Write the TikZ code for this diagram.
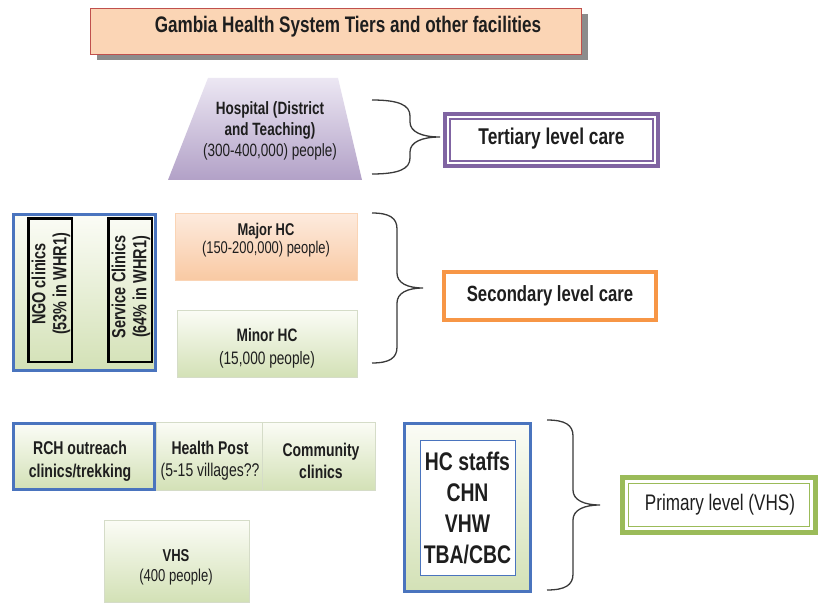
\documentclass[tikz,border=0pt]{standalone}
\usepackage{fontspec}
\setmainfont{Liberation Sans}[FakeStretch=0.76]
\usetikzlibrary{shadows}
\definecolor{titlefill}{HTML}{FBD5B5}
\definecolor{titledraw}{HTML}{C0504D}
\definecolor{lavtop}{HTML}{ECE7F3}
\definecolor{lavbot}{HTML}{B2A1C7}
\definecolor{purp}{HTML}{8064A2}
\definecolor{orng}{HTML}{F79646}
\definecolor{grnline}{HTML}{9BBB59}
\definecolor{blu}{HTML}{4A74BE}
\definecolor{grntop}{HTML}{FBFCF6}
\definecolor{grnbot}{HTML}{D3E1B6}
\definecolor{pchtop}{HTML}{FDEBDE}
\definecolor{pchbot}{HTML}{F9C9A3}
\definecolor{faint}{HTML}{D5DCC8}
\definecolor{ink}{HTML}{1E1E1E}
\definecolor{brcol}{HTML}{3A3A3A}
\newcommand\myfs[2]{\fontsize{#1}{#2}\selectfont}
\newcommand\mybrace[5]{%
  \draw[brc] (#1,#4) .. controls ({#1+0.7*(#2-#1)},#4) and (#2,{#4+5}) .. (#2,{#4+16})
    -- (#2,{(#4+#5)/2-15}) .. controls (#2,{(#4+#5)/2-5}) and ({#2+0.4*(#3-#2)},{(#4+#5)/2}) .. (#3,{(#4+#5)/2})
    .. controls ({#2+0.4*(#3-#2)},{(#4+#5)/2}) and (#2,{(#4+#5)/2+5}) .. (#2,{(#4+#5)/2+15})
    -- (#2,{#5-16}) .. controls (#2,{#5-5}) and ({#1+0.7*(#2-#1)},#5) .. (#1,#5);}
\tikzset{
  txt/.style={align=center, text=ink, inner sep=0pt},
  brc/.style={draw=brcol, line width=1.3pt},
  greenbox/.style={top color=grntop, bottom color=grnbot, draw=faint, line width=0.6pt, outer sep=0pt, inner sep=0pt},
  peachbox/.style={top color=pchtop, bottom color=pchbot, draw=pchbot!80!white, line width=0.6pt, outer sep=0pt, inner sep=0pt},
  bluebox/.style={top color=grntop, bottom color=grnbot, draw=blu, line width=3pt, outer sep=0pt, inner sep=0pt},
  blackbox/.style={draw=black, line width=2.5pt, outer sep=0pt, inner sep=0pt},
  levelbox/.style={fill=white, line width=4pt, outer sep=0pt, inner sep=0pt},
}
\begin{document}
\begin{tikzpicture}[x=1pt,y=-1pt]
\useasboundingbox (0,0) rectangle (821,604);
\fill[white] (0,0) rectangle (821,604);

% title
\node[fill=titlefill, draw=titledraw, line width=1.2pt, minimum width=491pt, minimum height=46pt,
      drop shadow={shadow xshift=6pt, shadow yshift=-6pt, fill=black, opacity=0.45}] (title) at (336,31.5) {};
\node[txt, font=\bfseries\myfs{22.5}{26}] (titletext) at (348,27) {Gambia Health System Tiers and other facilities};

% hospital trapezoid
\path[top color=lavtop, bottom color=lavbot] (208,78) -- (338,78) -- (362,180) -- (168,180) -- cycle;
\node[txt, font=\myfs{17.8}{21}] (hosp) at (270,131) {{\bfseries Hospital (District}\\{\bfseries and Teaching)}\\(300-400,000) people)};

% tertiary
\mybrace{372}{410}{440}{100}{174}
\node[levelbox, draw=purp, minimum width=213pt, minimum height=52pt] (tert) at (551.5,140) {};
\draw[purp, line width=1.2pt] ([xshift=5pt,yshift=-5pt]tert.north west) rectangle ([xshift=-5pt,yshift=5pt]tert.south east);
\node[txt, font=\bfseries\myfs{22.8}{26}] (terttext) at (551.5,139) {Tertiary level care};

% left clinics group
\node[bluebox, minimum width=142pt, minimum height=156pt] (clinics) at (84.5,292.5) {};
\node[blackbox, minimum width=43.5pt, minimum height=143.5pt] (ngo) at (50,290) {};
\node[blackbox, minimum width=43.5pt, minimum height=143.5pt] (serv) at (130,290) {};
\node[txt, rotate=90, font=\bfseries\myfs{19}{21}] (ngotext) at (51,284) {NGO clinics\\(53\% in WHR1)};
\node[txt, rotate=90, font=\bfseries\myfs{19}{21}] (servtext) at (131,287) {Service Clinics\\(64\% in WHR1)};

% health centres
\node[peachbox, minimum width=182pt, minimum height=67pt] (major) at (266,246.5) {};
\node[txt, font=\myfs{17}{18}] (majortext) at (266,240) {{\bfseries Major HC}\\(150-200,000) people)};
\node[greenbox, minimum width=180pt, minimum height=67pt] (minor) at (267,343.5) {};
\node[txt, font=\myfs{18}{23}] (minortext) at (267,348.5) {{\bfseries Minor HC}\\(15,000 people)};

% secondary
\mybrace{372}{397}{423}{213}{363}
\node[levelbox, draw=orng, minimum width=212pt, minimum height=48pt] (sec) at (550,296) {};
\node[txt, font=\bfseries\myfs{22}{26}] (sectext) at (550,296) {Secondary level care};

% bottom row
\node[bluebox, minimum width=141pt, minimum height=66pt] (rch) at (84,456.5) {};
\node[txt, font=\bfseries\myfs{18.5}{23}] (rchtext) at (80,461.5) {RCH outreach\\clinics/trekking};
\node[greenbox, minimum width=106pt, minimum height=68pt] (post) at (209,456) {};
\node[txt, font=\myfs{18.4}{22}] (posttext) at (210,461) {{\bfseries Health Post}\\(5-15 villages??};
\node[greenbox, minimum width=113pt, minimum height=68pt] (comm) at (318.5,456) {};
\node[txt, font=\bfseries\myfs{18.4}{22}] (commtext) at (321,461) {Community\\clinics};
\node[greenbox, minimum width=145pt, minimum height=82pt] (vhs) at (176.5,561) {};
\node[txt, font=\myfs{17.2}{20}] (vhstext) at (176,567) {{\bfseries VHS}\\(400 people)};

% staff group
\node[bluebox, minimum width=126pt, minimum height=168pt] (staff) at (467.5,507.5) {};
\node[fill=white, draw=blu, line width=0.8pt, minimum width=95pt, minimum height=135pt, inner sep=0pt] (staffin) at (467.5,507.5) {};
\node[txt, font=\bfseries\myfs{25.5}{31}] (stafftext) at (467.5,508.5) {HC staffs\\CHN\\VHW\\TBA/CBC};

% primary
\mybrace{547}{573}{600}{420}{590}
\node[levelbox, draw=grnline, line width=5pt, minimum width=193pt, minimum height=55pt] (prim) at (719,505) {};
\draw[grnline, line width=1.8pt] ([xshift=6pt,yshift=-6pt]prim.north west) rectangle ([xshift=-6pt,yshift=6pt]prim.south east);
\node[txt, font=\myfs{22.5}{26}] (primtext) at (720,505) {Primary level (VHS)};
\end{tikzpicture}
\end{document}
